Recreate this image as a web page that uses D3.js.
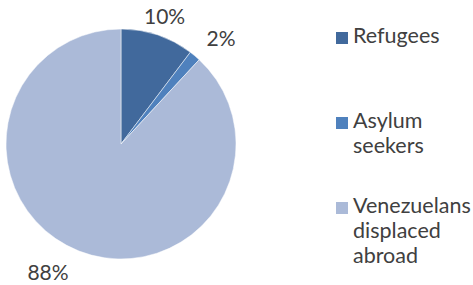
<!DOCTYPE html>
<html>
<head>
<meta charset="utf-8">
<script src="https://cdn.jsdelivr.net/npm/d3@7"></script>
<style>
  body { margin: 0; background: #fff; }
  text { font-family: Lato, "Open Sans", sans-serif; fill: #404040; }
</style>
</head>
<body>
<div id="chart-container"></div>
<script>
const categories = ["Refugees", "Asylum seekers", "Venezuelans displaced abroad"];
const legendLines = [["Refugees"], ["Asylum", "seekers"], ["Venezuelans", "displaced", "abroad"]];
const shares = [10.3, 1.6, 88.1];
const colors = ["#41699c", "#4f81bd", "#abbad8"];

const WIDTH = 473;
const HEIGHT = 285;
const CX = 121, CY = 144, R = 115;

const svg = d3.select("#chart-container").append("svg")
  .attr("width", WIDTH)
  .attr("height", HEIGHT);

const pie = d3.pie().sort(null).value(d => d);
const arcs = pie(shares);

const arc = d3.arc().innerRadius(0).outerRadius(R);

const g = svg.append("g")
  .attr("transform", `translate(${CX},${CY})`);

g.selectAll("path")
  .data(arcs)
  .enter().append("path")
  .attr("d", arc)
  .attr("fill", (d, i) => colors[i])
  .attr("stroke", "#fff")
  .attr("stroke-width", 0.5);

// data labels placed just outside the pie edge
const labelArc = d3.arc().innerRadius(R + 22).outerRadius(R + 22);
const labelOffset = [[0, 1.5], [12, -1.5], [-23, 0]];

g.selectAll("text.label")
  .data(arcs)
  .enter().append("text")
  .attr("class", "label")
  .attr("text-anchor", "middle")
  .attr("dominant-baseline", "central")
  .style("font-size", "21px")
  .attr("x", (d, i) => labelArc.centroid(d)[0] + labelOffset[i][0])
  .attr("y", (d, i) => labelArc.centroid(d)[1] + labelOffset[i][1])
  .text(d => Math.round(d.value) + "%");

// legend
const legendY = [43, 128, 213];
const legend = svg.append("g")
  .attr("transform", "translate(336,0)");

const items = legend.selectAll("g")
  .data(categories)
  .enter().append("g")
  .attr("transform", (d, i) => `translate(0,${legendY[i]})`);

items.append("rect")
  .attr("x", 0)
  .attr("y", -11)
  .attr("width", 12)
  .attr("height", 12)
  .attr("fill", (d, i) => colors[i]);

items.append("text")
  .style("font-size", "21.5px")
  .selectAll("tspan")
  .data((d, i) => legendLines[i])
  .enter().append("tspan")
  .attr("x", 17)
  .attr("dy", (d, j) => j === 0 ? 0 : 25)
  .text(d => d);
</script>
</body>
</html>
